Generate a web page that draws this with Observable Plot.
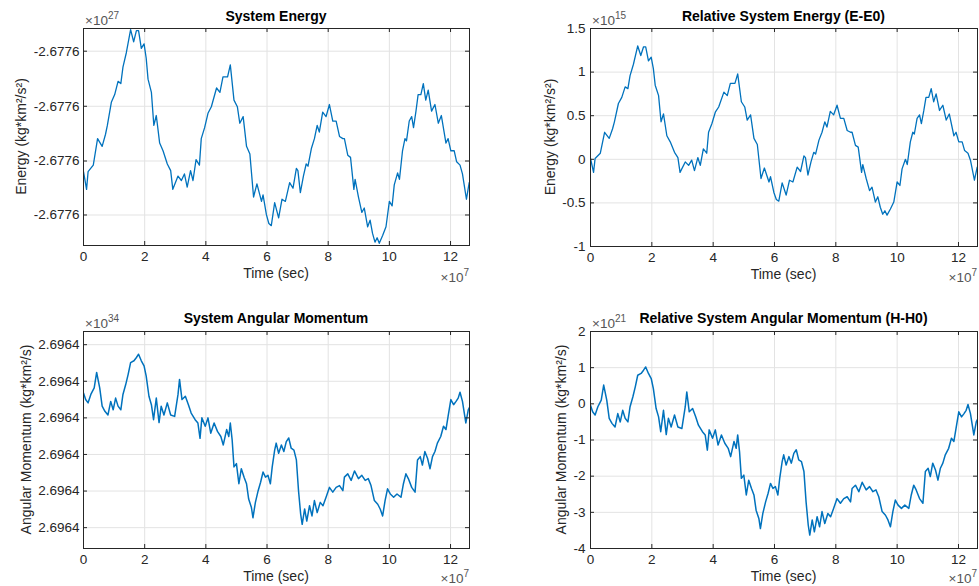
<!DOCTYPE html>
<html><head><meta charset="utf-8">
<script src="https://cdn.jsdelivr.net/npm/d3@7"></script>
<script src="https://cdn.jsdelivr.net/npm/@observablehq/plot@0.6"></script>
<style>
body{margin:0;background:#fff;}
#wrap{position:relative;width:979px;height:586px;overflow:hidden;background:#fff;}
#wrap svg{position:absolute;}
</style></head><body><div id="wrap"></div>
<script>
// ---- data (time in units of 1e7 s) ----
const timeE = [0,0.10,0.15,0.32,0.46,0.61,0.72,0.78,0.91,1.02,1.13,1.22,1.29,1.40,1.54,1.64,1.73,1.80,1.89,1.98,2.05,2.11,2.22,2.30,2.38,2.49,2.60,2.74,2.85,2.92,3.09,3.20,3.30,3.39,3.50,3.58,3.68,3.79,3.85,3.96,4.07,4.18,4.35,4.46,4.56,4.71,4.80,4.92,5.03,5.11,5.22,5.33,5.44,5.56,5.67,5.82,5.87,5.98,6.06,6.14,6.25,6.38,6.49,6.60,6.74,6.85,6.96,7.01,7.09,7.19,7.28,7.34,7.45,7.55,7.64,7.71,7.82,7.93,8.04,8.15,8.26,8.37,8.48,8.53,8.64,8.73,8.84,8.88,8.99,9.10,9.18,9.29,9.37,9.45,9.53,9.60,9.67,9.78,9.89,10.00,10.09,10.16,10.27,10.33,10.43,10.51,10.56,10.65,10.73,10.79,10.87,10.94,11.03,11.11,11.19,11.27,11.38,11.49,11.60,11.70,11.85,11.92,12.01,12.12,12.20,12.31,12.39,12.52,12.61];
const energyRel = [0.01,-0.15,0.01,0.07,0.31,0.24,0.35,0.43,0.64,0.71,0.83,0.81,0.96,1.09,1.30,1.19,1.29,1.29,1.13,1.17,1.04,0.85,0.73,0.43,0.52,0.27,0.20,0.08,0.02,-0.15,-0.03,-0.07,-0.01,-0.13,0.02,-0.07,0.12,0.07,0.31,0.41,0.54,0.60,0.77,0.73,0.87,0.87,0.98,0.66,0.60,0.45,0.51,0.24,0.17,-0.22,-0.10,-0.26,-0.20,-0.38,-0.46,-0.48,-0.27,-0.41,-0.24,-0.26,-0.09,-0.14,0.04,0.02,-0.18,-0.03,0.08,0.06,0.22,0.31,0.43,0.37,0.55,0.51,0.62,0.47,0.47,0.33,0.31,0.31,0.16,0.14,-0.15,-0.06,-0.22,-0.36,-0.32,-0.49,-0.43,-0.55,-0.63,-0.59,-0.64,-0.57,-0.49,-0.26,-0.30,-0.11,0.00,-0.06,0.20,0.31,0.29,0.47,0.51,0.41,0.56,0.71,0.71,0.81,0.66,0.75,0.56,0.62,0.45,0.52,0.27,0.31,0.20,0.20,0.10,0.07,-0.01,-0.24,-0.09];

const timeH = [0,0.07,0.15,0.24,0.35,0.43,0.53,0.61,0.70,0.80,0.89,0.97,1.05,1.13,1.22,1.29,1.38,1.46,1.54,1.65,1.73,1.80,1.89,1.98,2.05,2.14,2.22,2.29,2.38,2.47,2.54,2.63,2.74,2.85,2.98,3.09,3.14,3.22,3.33,3.43,3.52,3.65,3.74,3.81,3.87,3.98,4.07,4.16,4.27,4.38,4.49,4.57,4.68,4.75,4.80,4.86,4.92,5.00,5.08,5.16,5.25,5.33,5.40,5.49,5.54,5.62,5.71,5.79,5.87,5.95,6.03,6.11,6.17,6.25,6.30,6.38,6.47,6.55,6.63,6.71,6.79,6.88,6.96,7.03,7.10,7.15,7.23,7.30,7.39,7.47,7.55,7.64,7.74,7.83,7.93,8.04,8.15,8.26,8.37,8.48,8.53,8.64,8.75,8.86,8.99,9.10,9.21,9.31,9.40,9.51,9.62,9.70,9.78,9.86,9.94,10.03,10.14,10.25,10.38,10.46,10.54,10.62,10.73,10.84,10.92,11.01,11.08,11.16,11.25,11.33,11.41,11.49,11.57,11.68,11.77,11.85,11.92,12.01,12.10,12.18,12.25,12.31,12.39,12.45,12.50,12.58,12.64];
const momentumRel = [-0.04,-0.22,-0.31,-0.08,0.10,0.52,0.10,-0.40,-0.54,-0.64,-0.27,-0.50,-0.18,-0.40,-0.50,-0.08,0.19,0.47,0.79,0.84,0.93,1.02,0.84,0.70,0.42,-0.13,-0.36,-0.77,-0.18,-0.85,-0.40,-0.64,-0.31,-0.64,-0.68,-0.08,0.33,-0.22,-0.13,-0.36,-0.59,-0.77,-0.86,-1.28,-0.72,-0.95,-0.72,-1.14,-0.86,-1.09,-1.23,-1.46,-1.04,-1.23,-0.86,-1.32,-2.06,-1.97,-2.52,-2.11,-2.34,-2.52,-2.94,-3.17,-3.45,-3.03,-2.71,-2.48,-2.20,-2.34,-2.29,-2.52,-2.06,-1.60,-1.41,-1.69,-1.46,-1.64,-1.37,-1.27,-1.55,-1.60,-1.87,-2.71,-3.35,-3.63,-3.21,-3.54,-3.12,-3.40,-2.98,-3.31,-3.03,-3.12,-2.89,-2.62,-2.75,-2.62,-2.57,-2.71,-2.34,-2.25,-2.43,-2.17,-2.38,-2.29,-2.43,-2.38,-2.57,-2.98,-3.08,-3.21,-3.40,-2.98,-2.66,-2.80,-2.89,-2.80,-2.89,-2.52,-2.25,-2.38,-2.62,-2.75,-1.87,-1.78,-2.01,-1.64,-1.83,-2.11,-1.78,-1.64,-1.41,-1.23,-0.95,-1.04,-0.68,-0.22,-0.36,-0.27,-0.18,-0.02,-0.27,-0.59,-0.86,-0.50,-0.40];

// ---- ticks ----
const xTicks = [0, 2, 4, 6, 8, 10, 12];
const xDomain = [0, 12.62];
const energyDomainLeft = [-0.66, 1.31];
const energyTicksLeft = [1.104, 0.604, 0.107, -0.383];
const energyTickLabelLeft = "-2.6776";
const energyDomainRight = [-1, 1.5];
const energyTicksRight = [-1, -0.5, 0, 0.5, 1, 1.5];
const momentumDomainLeft = [-4.29, 1.64];
const momentumTicksLeft = [1.28, 0.28, -0.72, -1.72, -2.72, -3.72];
const momentumTickLabelLeft = "2.6964";
const momentumDomainRight = [-4, 2];
const momentumTicksRight = [-4, -3, -2, -1, 0, 1, 2];

const FONT = '"Liberation Sans", Arial, Helvetica, sans-serif';
const BLUE = "#0072BD", GRID = "#e3e3e3", AXIS = "#262626", TEXT = "#262626";

const wrap = d3.select("#wrap");

function panel(cfg) {
  const fw = cfg.width - cfg.ml - cfg.mr, fh = cfg.height - cfg.mt - cfg.mb;
  const data = cfg.t.map((t, i) => ({t, v: cfg.v[i]}));
  const svg = Plot.plot({
    width: cfg.width, height: cfg.height,
    marginLeft: cfg.ml, marginRight: cfg.mr, marginTop: cfg.mt, marginBottom: cfg.mb,
    style: {fontFamily: FONT, fontSize: "13.5px", color: TEXT, background: "transparent", overflow: "visible"},
    x: {domain: xDomain, label: null},
    y: {domain: cfg.yDomain, label: null},
    marks: [
      Plot.gridX(xTicks, {stroke: GRID, strokeOpacity: 1}),
      Plot.gridY(cfg.yTicks, {stroke: GRID, strokeOpacity: 1}),
      Plot.line(data, {x: "t", y: "v", stroke: BLUE, strokeWidth: cfg.sw, clip: true}),
      Plot.frame({stroke: AXIS, strokeWidth: 1}),
      Plot.tickX(xTicks, {x: d => d, insetTop: fh - 4, stroke: AXIS}),
      Plot.tickX(xTicks, {x: d => d, insetBottom: fh - 4, stroke: AXIS}),
      Plot.tickY(cfg.yTicks, {y: d => d, insetRight: fw - 4, stroke: AXIS}),
      Plot.tickY(cfg.yTicks, {y: d => d, insetLeft: fw - 4, stroke: AXIS}),
      Plot.axisX(xTicks, {tickSize: 0, tickPadding: 6, tickFormat: d => String(d), fill: TEXT, label: null}),
      Plot.axisY(cfg.yTicks, {tickSize: 0, tickPadding: cfg.yPad, tickFormat: cfg.yFmt, fill: TEXT, label: null})
    ]
  });
  svg.style.left = cfg.left + "px";
  svg.style.top = cfg.top + "px";
  wrap.node().appendChild(svg);
  const s = d3.select(svg);
  const cx = cfg.ml + fw / 2;
  s.append("text").attr("x", cx).attr("y", cfg.titleY).attr("text-anchor", "middle")
    .attr("font-weight", "bold").attr("font-size", 14).attr("fill", "#000").text(cfg.title);
  const ex = s.append("text").attr("x", cfg.ml + 2).attr("y", cfg.mt - 3).attr("font-size", 13.5)
    .attr("fill", "#555").attr("text-anchor", "start");
  ex.append("tspan").text("×10");
  ex.append("tspan").attr("dy", -6).attr("font-size", 10).text(cfg.exp);
  const ex7 = s.append("text").attr("x", cfg.ml + fw).attr("y", cfg.mt + fh + cfg.ex7dy).attr("font-size", 13.5)
    .attr("fill", "#555").attr("text-anchor", "end");
  ex7.append("tspan").text("×10");
  ex7.append("tspan").attr("dy", -6).attr("font-size", 10).text("7");
  s.append("text").attr("x", cx).attr("y", cfg.mt + fh + 33).attr("text-anchor", "middle")
    .attr("font-size", 14).attr("fill", TEXT).text("Time (sec)");
  s.append("text").attr("transform", `translate(${cfg.ylx},${cfg.mt + fh / 2}) rotate(-90)`)
    .attr("text-anchor", "middle").attr("font-size", 14).attr("fill", TEXT).text(cfg.ylabel);
}

panel({left: 0, top: 0, width: 490, height: 290, ml: 83, mr: 21, mt: 28, mb: 45, ex7dy: 37,
  t: timeE, v: energyRel, yDomain: energyDomainLeft, yTicks: energyTicksLeft, yFmt: () => energyTickLabelLeft, yPad: 4,
  title: "System Energy", titleY: 21, exp: "27", ylabel: "Energy (kg*km²/s²)", ylx: 26, sw: 1.3});
panel({left: 490, top: 0, width: 489, height: 290, ml: 100, mr: 2, mt: 28, mb: 44, ex7dy: 36,
  t: timeE, v: energyRel, yDomain: energyDomainRight, yTicks: energyTicksRight, yFmt: d => String(d), yPad: 5,
  title: "Relative System Energy (E-E0)", titleY: 21, exp: "15", ylabel: "Energy (kg*km²/s²)", ylx: 65, sw: 1.3});
panel({left: 0, top: 290, width: 490, height: 296, ml: 83, mr: 21, mt: 41, mb: 38, ex7dy: 35,
  t: timeH, v: momentumRel, yDomain: momentumDomainLeft, yTicks: momentumTicksLeft, yFmt: () => momentumTickLabelLeft, yPad: 4,
  title: "System Angular Momentum", titleY: 33, exp: "34", ylabel: "Angular Momentum (kg*km²/s)", ylx: 31, sw: 1.5});
panel({left: 490, top: 290, width: 489, height: 296, ml: 100, mr: 2, mt: 41, mb: 38, ex7dy: 35,
  t: timeH, v: momentumRel, yDomain: momentumDomainRight, yTicks: momentumTicksRight, yFmt: d => String(d), yPad: 5,
  title: "Relative System Angular Momentum (H-H0)", titleY: 33, exp: "21", ylabel: "Angular Momentum (kg*km²/s)", ylx: 76, sw: 1.5});
</script>
</body></html>
